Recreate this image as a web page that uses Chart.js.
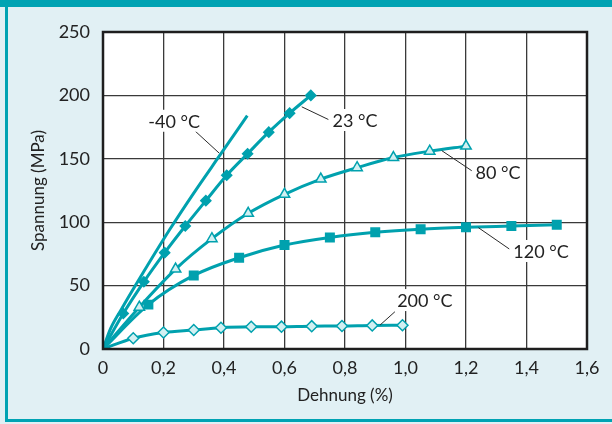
<!DOCTYPE html>
<html lang="de">
<head>
<meta charset="UTF-8">
<title>Spannung-Dehnung</title>
<script src="https://cdn.jsdelivr.net/npm/chart.js"></script>
<style>
  html, body { margin: 0; padding: 0; background: #e1f0f4; }
  #wrap { width: 612px; height: 424px; }
</style>
</head>
<body>
<div id="wrap"><canvas id="chart" width="612" height="424"></canvas></div>
<script>
// tick labels (German decimal comma)
const xTickLabels = ['0', '0,2', '0,4', '0,6', '0,8', '1,0', '1,2', '1,4', '1,6'];
const yTickLabels = ['0', '50', '100', '150', '200', '250'];

// -40 °C (no markers)
const strainM40 = [0, 0.025, 0.06, 0.117, 0.22, 0.3, 0.39, 0.477];
const stressM40 = [0, 16, 31, 54, 94, 123, 154, 184];
// 23 °C
const strain23 = [0, 0.067, 0.135, 0.204, 0.272, 0.34, 0.409, 0.478, 0.548, 0.617, 0.687];
const stress23 = [0, 28, 53, 76, 97, 117, 137, 154, 171, 186, 200];
// 80 °C
const strain80 = [0, 0.12, 0.24, 0.36, 0.48, 0.6, 0.72, 0.84, 0.96, 1.08, 1.2];
const stress80 = [0, 33, 63, 87, 107, 122, 134, 143, 151, 156, 160];
// 120 °C
const strain120 = [0, 0.15, 0.3, 0.45, 0.6, 0.75, 0.9, 1.05, 1.2, 1.35, 1.5];
const stress120 = [0, 35, 58, 72, 82, 88, 92, 94.5, 96, 97, 98];
// 200 °C
const strain200 = [0, 0.1, 0.2, 0.3, 0.39, 0.49, 0.59, 0.69, 0.79, 0.89, 0.99];
const stress200 = [0, 8.5, 13, 15, 16.8, 17.5, 17.6, 18, 18.1, 18.6, 18.7];

const curveLabels = ['-40 °C', '23 °C', '80 °C', '120 °C', '200 °C'];

const TEAL = '#00a1ae';
const LIGHT = '#d2f0f2';
const FONT = 'Lato, "Open Sans", sans-serif';

function pts(xs, ys) {
  return xs.map((x, i) => ({ x: x, y: ys[i] }));
}
// no marker at the origin
function radii(n, r) {
  return Array.from({ length: n }, (_, i) => i === 0 ? 0 : r);
}

// text position and leader line, in data units
const notes = [
  { text: curveLabels[0], x: 0.235, y: 180, from: [0.384, 154.5], to: [0.304, 172] },
  { text: curveLabels[1], x: 0.833, y: 180.6, from: [0.657, 191], to: [0.745, 181] },
  { text: curveLabels[2], x: 1.306, y: 139.6, from: [1.12, 156.4], to: [1.219, 140.6] },
  { text: curveLabels[3], x: 1.448, y: 77.3, from: [1.241, 95.7], to: [1.343, 78.9] },
  { text: curveLabels[4], x: 1.064, y: 38.6, from: [0.916, 18.9], to: [0.965, 29.4] }
];

const framePlugin = {
  id: 'frame',
  beforeDraw(chart) {
    const { ctx, chartArea: a } = chart;
    ctx.save();
    ctx.fillStyle = '#e1f0f4';
    ctx.fillRect(0, 0, chart.width, chart.height);
    ctx.fillStyle = '#00a3b3';
    ctx.fillRect(0, 0, chart.width, 7);
    ctx.fillRect(5, 0, 3, chart.height - 2);
    ctx.fillRect(5, chart.height - 5, chart.width - 5, 3);
    ctx.fillStyle = '#ffffff';
    ctx.fillRect(a.left, a.top, a.right - a.left, a.bottom - a.top);
    ctx.restore();
  },
  afterDraw(chart) {
    const { ctx, chartArea: a, scales } = chart;
    ctx.save();
    ctx.strokeStyle = '#1e1e1e';
    ctx.lineWidth = 2.5;
    ctx.strokeRect(a.left, a.top, a.right - a.left, a.bottom - a.top);

    ctx.font = '18px ' + FONT;
    ctx.textAlign = 'center';
    ctx.textBaseline = 'middle';
    notes.forEach(n => {
      const px = scales.x.getPixelForValue(n.x);
      const py = scales.y.getPixelForValue(n.y);
      ctx.strokeStyle = '#2a2a2a';
      ctx.lineWidth = 1;
      ctx.beginPath();
      ctx.moveTo(scales.x.getPixelForValue(n.from[0]), scales.y.getPixelForValue(n.from[1]));
      ctx.lineTo(scales.x.getPixelForValue(n.to[0]), scales.y.getPixelForValue(n.to[1]));
      ctx.stroke();
      const w = ctx.measureText(n.text).width;
      ctx.fillStyle = '#ffffff';
      ctx.fillRect(px - w / 2 - 3, py - 11, w + 6, 22);
      ctx.fillStyle = '#222222';
      ctx.fillText(n.text, px, py + 1);
    });
    ctx.restore();
  }
};

const common = {
  showLine: true,
  borderColor: TEAL,
  borderWidth: 3,
  cubicInterpolationMode: 'monotone',
  pointBorderColor: TEAL,
  pointBorderWidth: 1.5
};

new Chart(document.getElementById('chart'), {
  type: 'scatter',
  data: {
    datasets: [
      Object.assign({}, common, {
        label: curveLabels[0], data: pts(strainM40, stressM40), pointRadius: 0
      }),
      Object.assign({}, common, {
        label: curveLabels[1], data: pts(strain23, stress23),
        pointStyle: 'rectRot', pointRadius: radii(strain23.length, 5), pointBackgroundColor: TEAL
      }),
      Object.assign({}, common, {
        label: curveLabels[2], data: pts(strain80, stress80),
        pointStyle: 'triangle', pointRadius: radii(strain80.length, 6), pointBackgroundColor: LIGHT
      }),
      Object.assign({}, common, {
        label: curveLabels[3], data: pts(strain120, stress120),
        pointStyle: 'rect', pointRadius: radii(strain120.length, 6), pointBackgroundColor: TEAL
      }),
      Object.assign({}, common, {
        label: curveLabels[4], data: pts(strain200, stress200),
        pointStyle: 'rectRot', pointRadius: radii(strain200.length, 5.5), pointBackgroundColor: LIGHT
      })
    ]
  },
  options: {
    responsive: false,
    animation: false,
    devicePixelRatio: 1,
    layout: { padding: { left: 28, top: 32, right: 25, bottom: 12 } },
    plugins: {
      legend: { display: false },
      tooltip: { enabled: false }
    },
    scales: {
      x: {
        type: 'linear',
        min: 0, max: 1.6,
        ticks: {
          stepSize: 0.2,
          padding: 8,
          color: '#222',
          font: { family: FONT, size: 18 },
          callback: (v, i) => xTickLabels[i]
        },
        grid: { color: '#3a3a3a', lineWidth: 1.3, drawTicks: false },
        border: { display: false },
        title: {
          display: true,
          text: 'Dehnung (%)',
          color: '#222',
          font: { family: FONT, size: 17 },
          padding: { top: 2, bottom: 6 }
        },
        afterFit: s => { s.height = 63; }
      },
      y: {
        min: 0, max: 250,
        ticks: {
          stepSize: 50,
          padding: 13,
          color: '#222',
          font: { family: FONT, size: 18 },
          callback: (v, i) => yTickLabels[i]
        },
        grid: { color: '#3a3a3a', lineWidth: 1.3, drawTicks: false },
        border: { display: false },
        title: {
          display: true,
          text: 'Spannung (MPa)',
          color: '#222',
          font: { family: FONT, size: 17 },
          padding: { top: 0, bottom: 0 }
        },
        afterFit: s => { s.width = 75; }
      }
    }
  },
  plugins: [framePlugin]
});
</script>
</body>
</html>
